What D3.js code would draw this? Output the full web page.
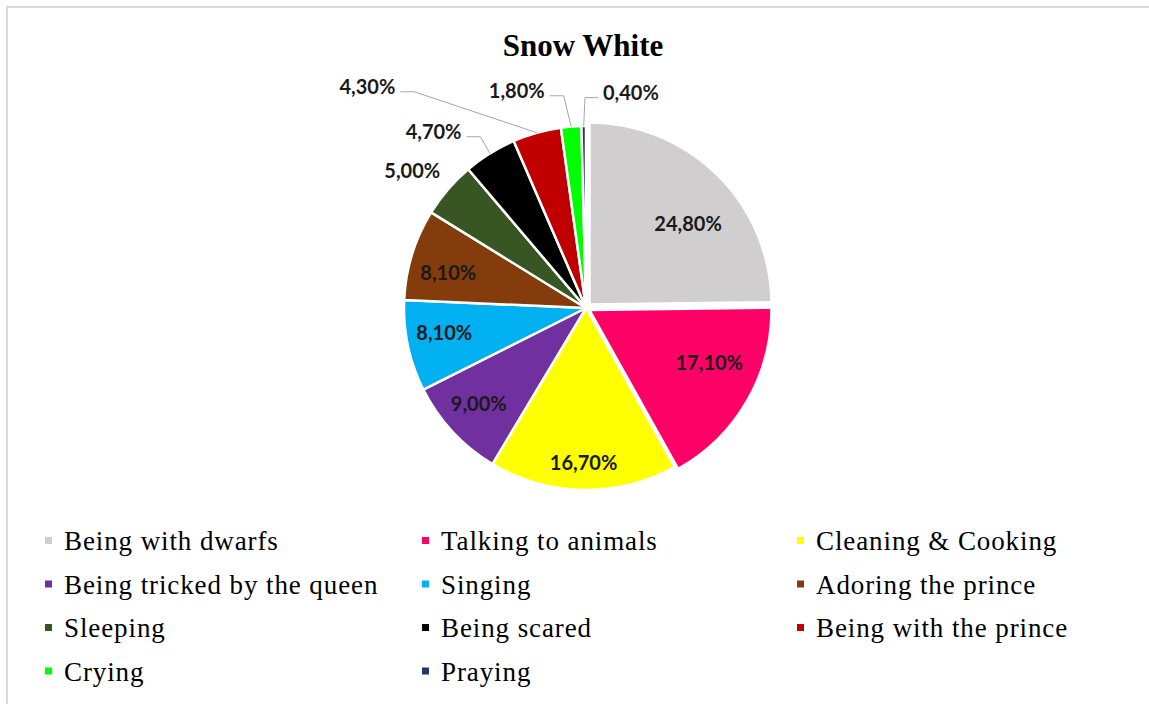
<!DOCTYPE html>
<html>
<head>
<meta charset="utf-8">
<script src="https://cdn.jsdelivr.net/npm/d3@7/dist/d3.min.js"></script>
<style>
  body { margin: 0; background: #fff; }
</style>
</head>
<body>
<div class="chart"></div>
<script>
// chart data
var chartTitle = "Snow White";
var categories = [
  "Being with dwarfs", "Talking to animals", "Cleaning & Cooking",
  "Being tricked by the queen", "Singing", "Adoring the prince",
  "Sleeping", "Being scared", "Being with the prince",
  "Crying", "Praying"
];
var shares = [24.8, 17.1, 16.7, 9.0, 8.1, 8.1, 5.0, 4.7, 4.3, 1.8, 0.4];
var sliceColors = [
  "#d0cece", "#ff0066", "#ffff00", "#7030a0", "#00b0f0", "#843c0c",
  "#375623", "#000000", "#c00000", "#00ff00", "#1f3864"
];

// label placement: [angle nudge in degrees, distance from centre]
var labelPlacement = [
  [6, 132], [-6, 135], [0, 155], [1, 144],
  [2, 144], [-3, 142], [-2.5, 221], [-9, 233],
  [-29, 311], [-13, 228], [12.5, 220]
];
var leaderLines = [false, false, false, false, false, false, false, true, true, true, true];
// small explosion of the two largest slices
var explode = [5, 4, 0, 0, 0, 0, 0, 0, 0, 0, 0];

var svgWidth = 1149;
var svgHeight = 704;
var cx = 586, cy = 308, radius = 182;

var svg = d3.select(".chart")
  .append("svg")
  .attr("width", svgWidth)
  .attr("height", svgHeight);

// chart area border
svg.append("rect")
  .attr("x", 7)
  .attr("y", 7)
  .attr("width", svgWidth + 20)
  .attr("height", svgHeight + 20)
  .attr("fill", "#fff")
  .attr("stroke", "#d9d9d9")
  .attr("stroke-width", 2);

svg.append("text")
  .attr("x", 583)
  .attr("y", 56)
  .attr("text-anchor", "middle")
  .style("font-family", "'Liberation Serif', 'Times New Roman', serif")
  .style("font-weight", "bold")
  .style("font-size", "31px")
  .attr("fill", "#000")
  .text(chartTitle);

var locale = d3.formatLocale({decimal: ",", thousands: ".", grouping: [3], currency: ["", ""]});
var fmt = locale.format(".2f");

var data = categories.map(function(c, i) {
  return {name: c, value: shares[i], color: sliceColors[i], i: i};
});

var pie = d3.pie().sort(null).value(d => d.value);
var arcs = pie(data);

var arc = d3.arc().innerRadius(0).outerRadius(radius);

var pieGroup = svg.append("g")
  .attr("transform", `translate(${cx}, ${cy})`);

function midAngle(d) { return (d.startAngle + d.endAngle) / 2; }

pieGroup.selectAll("path.slice")
  .data(arcs)
  .enter()
  .append("path")
  .attr("class", "slice")
  .attr("d", arc)
  .attr("transform", function(d) {
    var a = midAngle(d), e = explode[d.index];
    return `translate(${e * Math.sin(a)}, ${-e * Math.cos(a)})`;
  })
  .attr("fill", d => d.data.color)
  .attr("stroke", "#fff")
  .attr("stroke-width", 2.5)
  .attr("stroke-linejoin", "round");

// data labels
var labelGroup = pieGroup.append("g");
arcs.forEach(function(d) {
  var p = labelPlacement[d.index];
  var a = midAngle(d) + p[0] * Math.PI / 180;
  var lx = p[1] * Math.sin(a);
  var ly = -p[1] * Math.cos(a);
  var t = labelGroup.append("text")
    .attr("x", lx)
    .attr("y", ly)
    .attr("dy", "0.35em")
    .attr("text-anchor", "middle")
    .style("font-family", "Lato, 'Open Sans', sans-serif")
    .style("font-weight", "bold")
    .style("font-size", "20px")
    .attr("fill", "#1a1a1a")
    .text(fmt(d.data.value) + "%");

  if (leaderLines[d.index]) {
    var w = t.node().getComputedTextLength();
    var m = midAngle(d);
    var px = radius * Math.sin(m), py = -radius * Math.cos(m);
    var sx, ex;
    if (px > lx) { sx = lx + w / 2 + 5; ex = sx + 14; }
    else { sx = lx - w / 2 - 5; ex = sx - 13; }
    var yLine = ly + 5;
    labelGroup.append("path")
      .attr("d", `M${sx},${yLine}L${ex},${yLine}L${px},${py}`)
      .attr("fill", "none")
      .attr("stroke", "#a6a6a6")
      .attr("stroke-width", 1);
  }
});

// legend
var legendCols = [45, 422, 797];
var legendTop = 541;
var legendRowGap = 43.5;
var legend = svg.append("g");
data.forEach(function(d, i) {
  var col = i % 3, row = Math.floor(i / 3);
  var x = legendCols[col], y = legendTop + row * legendRowGap;
  legend.append("rect")
    .attr("x", x)
    .attr("y", y - 4)
    .attr("width", 7)
    .attr("height", 7)
    .attr("fill", d.color);
  legend.append("text")
    .attr("x", x + 19)
    .attr("y", y + 9)
    .style("font-family", "'Liberation Serif', 'Times New Roman', serif")
    .style("font-size", "27px")
    .style("letter-spacing", "0.9px")
    .attr("fill", "#000")
    .text(d.name);
});
</script>
</body>
</html>
